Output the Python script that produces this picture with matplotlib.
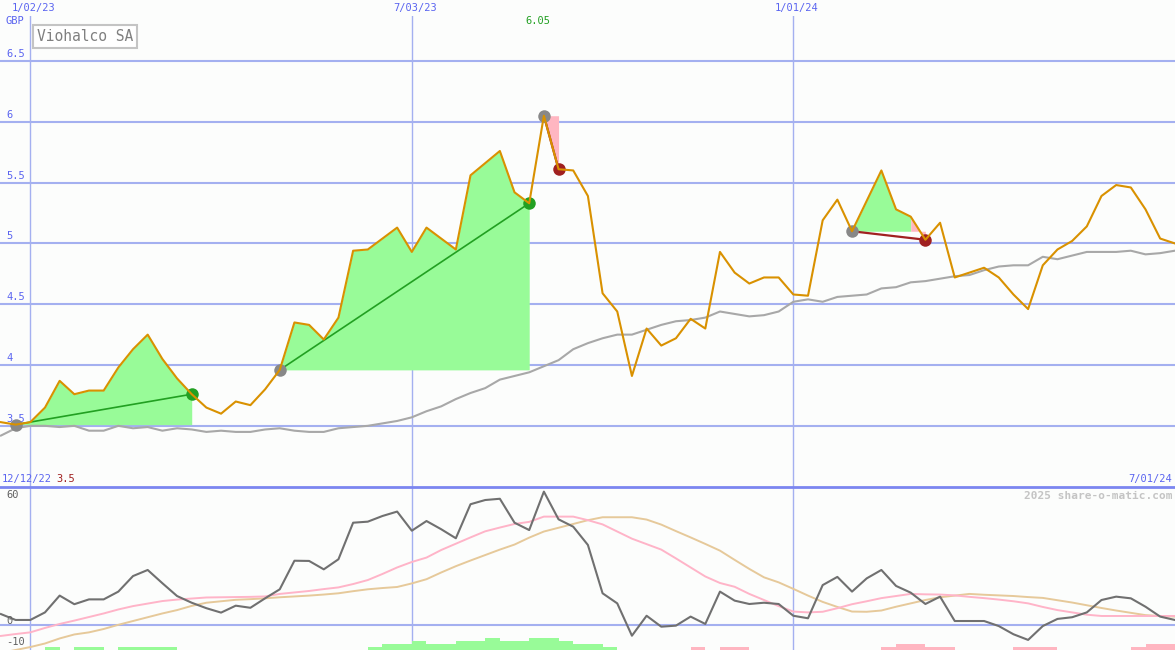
import numpy as np
import matplotlib.pyplot as plt

# weekly data, week 0 = 2 Jan 2023 (chart runs 19 Dec 2022 .. 1 Jul 2024)
weeks = np.arange(-2, 79)

price = [3.53, 3.51, 3.53, 3.65, 3.87, 3.76, 3.79, 3.79, 3.98, 4.13,
         4.25, 4.05, 3.89, 3.76, 3.65, 3.60, 3.70, 3.67, 3.80, 3.96,
         4.35, 4.33, 4.21, 4.39, 4.94, 4.95, 5.04, 5.13, 4.93, 5.13,
         5.04, 4.95, 5.56, 5.66, 5.76, 5.42, 5.33, 6.05, 5.61, 5.60,
         5.39, 4.59, 4.44, 3.91, 4.30, 4.16, 4.22, 4.38, 4.30, 4.93,
         4.76, 4.67, 4.72, 4.72, 4.58, 4.57, 5.19, 5.36, 5.10, 5.35,
         5.60, 5.28, 5.22, 5.03, 5.17, 4.72, 4.76, 4.80, 4.72, 4.58,
         4.46, 4.82, 4.95, 5.02, 5.14, 5.39, 5.48, 5.46, 5.28, 5.04,
         5.00]

avg = [3.42, 3.48, 3.50, 3.50, 3.49, 3.50, 3.46, 3.46, 3.50, 3.48,
       3.49, 3.46, 3.48, 3.47, 3.45, 3.46, 3.45, 3.45, 3.47, 3.48,
       3.46, 3.45, 3.45, 3.48, 3.49, 3.50, 3.52, 3.54, 3.57, 3.62,
       3.66, 3.72, 3.77, 3.81, 3.88, 3.91, 3.94, 3.99, 4.04, 4.13,
       4.18, 4.22, 4.25, 4.25, 4.29, 4.33, 4.36, 4.37, 4.39, 4.44,
       4.42, 4.40, 4.41, 4.44, 4.52, 4.54, 4.52, 4.56, 4.57, 4.58,
       4.63, 4.64, 4.68, 4.69, 4.71, 4.73, 4.74, 4.78, 4.81, 4.82,
       4.82, 4.89, 4.87, 4.90, 4.93, 4.93, 4.93, 4.94, 4.91, 4.92,
       4.94]

osc = [5.2, 2.4, 2.4, 6.0, 14.0, 9.9, 12.2, 12.2, 15.9, 23.3,
       26.2, 19.9, 13.8, 10.6, 8.0, 5.9, 9.2, 8.2, 12.7, 17.0,
       30.6, 30.5, 26.5, 31.3, 48.7, 49.2, 51.9, 54.0, 44.9, 49.5,
       45.6, 41.3, 57.5, 59.5, 60.1, 48.7, 45.2, 63.5, 50.3, 46.8,
       38.1, 15.1, 10.3, -5.1, 4.4, -0.8, -0.3, 4.0, 0.5, 15.9,
       11.6, 10.0, 10.6, 10.0, 4.4, 3.2, 19.0, 22.9, 15.9, 22.2,
       26.2, 18.6, 15.4, 10.0, 13.5, 1.9, 1.9, 1.9, -0.5, -4.4,
       -7.1, -0.5, 2.9, 3.7, 6.0, 11.9, 13.5, 12.7, 8.7, 4.0,
       2.4]

osc_fast = [-5.2, -4.3, -3.5, -1.4, 0.5, 2.1, 3.8, 5.5, 7.4, 9.0,
            10.2, 11.4, 12.1, 12.6, 13.1, 13.2, 13.3, 13.4, 13.6, 14.8,
            15.5, 16.2, 17.1, 17.9, 19.5, 21.4, 24.3, 27.4, 30.0, 32.1,
            35.7, 38.7, 41.7, 44.6, 46.4, 48.1, 49.1, 51.6, 51.6, 51.6,
            49.9, 47.9, 44.5, 41.1, 38.5, 35.9, 31.7, 27.4, 23.1, 20.0,
            18.2, 14.8, 11.9, 9.0, 6.4, 6.0, 6.3, 8.0, 9.9, 11.3,
            12.8, 13.8, 14.8, 14.6, 14.5, 14.1, 13.4, 12.8, 12.1, 11.3,
            10.3, 8.6, 7.1, 6.0, 4.9, 4.3, 4.3, 4.3, 4.3, 4.3,
            4.3]

osc_slow = [-13.3, -11.9, -10.5, -8.8, -6.4, -4.5, -3.5, -1.9, 0.1, 1.9,
            3.7, 5.5, 7.1, 9.1, 10.6, 11.3, 12.0, 12.3, 12.7, 13.2,
            13.6, 14.0, 14.5, 15.1, 16.1, 17.0, 17.6, 18.1, 19.8, 21.8,
            25.0, 28.0, 30.7, 33.3, 35.9, 38.3, 41.6, 44.5, 46.3, 48.1,
            49.9, 51.3, 51.3, 51.3, 50.2, 47.8, 44.7, 41.7, 38.6, 35.4,
            31.0, 26.7, 22.7, 20.3, 17.2, 14.0, 11.0, 8.6, 6.4, 6.3,
            6.9, 8.7, 10.3, 11.9, 13.2, 14.0, 14.8, 14.4, 14.1, 13.8,
            13.3, 12.9, 11.8, 10.7, 9.4, 8.1, 6.9, 5.8, 4.7, 4.3,
            4.0]

# histogram steps (+ green, - pink)
hist = [0, 0, 0, 1, 0, 1, 1, 0, 1, 1,
        1, 1, 0, 0, 0, 0, 0, 0, 0, 0,
        0, 0, 0, 0, 0, 1, 2, 2, 3, 2,
        2, 3, 3, 4, 3, 3, 4, 4, 3, 2,
        2, 1, 0, 0, 0, 0, 0, -1, 0, -1,
        -1, 0, 0, 0, 0, 0, 0, 0, 0, 0,
        -1, -2, -2, -1, -1, 0, 0, 0, 0, -1,
        -1, -1, 0, 0, 0, 0, 0, -1, -2, -2,
        0]

date_ticks = [0, 26, 52]
date_labels = ["1/02/23", "7/03/23", "1/01/24"]
price_ticks = [3.5, 4, 4.5, 5, 5.5, 6, 6.5]
price_labels = ["3.5", "4", "4.5", "5", "5.5", "6", "6.5"]
osc_ticks = [60, 0, -10]

trend_start = [-1, 17, 35, 56]
trend_end = [11, 34, 36, 61]

bg = "#fcfdfc"
grid = "#a4b0f0"
blue = "#5a64f0"
green_fill = "#98fb98"
pink_fill = "#ffb6c1"
up_col = "#22a022"
down_col = "#a02020"
mono = "DejaVu Sans Mono"

W, H = 1175, 650
fig = plt.figure(figsize=(W / 100, H / 100), dpi=100)
fig.patch.set_facecolor(bg)

ax = fig.add_axes([0, 163 / H, 1, 471 / H])
axb = fig.add_axes([0, 0, 1, 163 / H])
for a in (ax, axb):
    a.set_facecolor(bg)
    a.set_xlim(-2.065, 78.01)
    a.set_xticks([])
    a.set_yticks([])
    for s in a.spines.values():
        s.set_visible(False)
    for t in date_ticks:
        a.axvline(t, color=grid, lw=1.0, zorder=0)

ax.set_ylim(2.997, 6.870)
axb.set_ylim(-11.9, 65.7)

# price panel
for v, lab in zip(price_ticks, price_labels):
    ax.axhline(v, color=grid, lw=1.5, zorder=0)
    ax.annotate(lab, xy=(0, v), xycoords=("axes fraction", "data"),
                xytext=(6, 2), textcoords="offset pixels", va="bottom",
                ha="left", color=blue, fontsize=7.5, family=mono)

pr = np.array(price)
for s, e in zip(trend_start, trend_end):
    base = pr[s + 2]
    # colour each week by where it ends vs the start price, merge runs
    cols = [green_fill if pr[i + 3] >= base else pink_fill for i in range(s, e)]
    a0 = 0
    for k in range(1, len(cols) + 1):
        if k == len(cols) or cols[k] != cols[a0]:
            i0, i1 = s + a0, s + k
            ax.fill_between(weeks[i0 + 2:i1 + 3], pr[i0 + 2:i1 + 3], base,
                            color=cols[a0], lw=0, zorder=1)
            a0 = k

ax.plot(weeks, avg, color="#a8a8a8", lw=1.5, zorder=2)

for s, e in zip(trend_start, trend_end):
    up = pr[e + 2] >= pr[s + 2]
    col = up_col if up else down_col
    ax.plot([s, e], [pr[s + 2], pr[e + 2]], color=col,
            lw=1.2 if up else 1.6, zorder=3)
    ax.plot(s, pr[s + 2], "o", color="#888888", ms=9, mew=0, zorder=4)
    ax.plot(e, pr[e + 2], "o", color=col, ms=9, mew=0, zorder=4)

ax.plot(weeks, price, color="#d99100", lw=1.5, zorder=5)

# oscillator panel
axb.axhline(0, color=grid, lw=1.5, zorder=0)
axb.spines["top"].set_visible(True)
axb.spines["top"].set_color("#7b86f0")
axb.spines["top"].set_linewidth(2)
axb.plot(weeks, osc_slow, color="#e6c99a", lw=1.4, zorder=2)
axb.plot(weeks, osc_fast, color="#ffb4c8", lw=1.4, zorder=2)
axb.plot(weeks, osc, color="#707070", lw=1.5, zorder=3)
for v in osc_ticks:
    axb.text(-1.65, v + 2, str(v), va="center", ha="left",
             color="#606060", fontsize=7.5, family=mono)

axh = axb.twinx()
axh.set_ylim(0, 163 / 3)
axh.set_axis_off()
hv = np.array(hist)
axh.bar(weeks, np.abs(hv), width=1, align="edge", lw=0,
        color=[green_fill if h > 0 else pink_fill for h in hv])

# texts
for t, lab in zip(date_ticks, date_labels):
    ax.annotate(lab, xy=(t, 1), xycoords=("data", "axes fraction"),
                xytext=(3, 8), textcoords="offset pixels", ha="center",
                va="center", color=blue, fontsize=7.5, family=mono)

fig.text(6 / W, 1 - 21 / H, "GBP", color=blue, fontsize=7.5, family=mono,
         va="center", ha="left")
fig.text(37 / W, 1 - 36.5 / H, "Viohalco SA", color="#808080", fontsize=10.5,
         family=mono, va="center", ha="left",
         bbox=dict(boxstyle="square,pad=0.25", fc="white", ec="#c4c4c4", lw=1.5))
fig.text(538 / W, 1 - 21 / H, f"{max(price):.2f}", color=up_col, fontsize=7.5,
         family=mono, va="center", ha="center")
fig.text(2 / W, 1 - 479 / H, "12/12/22", color=blue, fontsize=7.5, family=mono,
         va="center", ha="left")
fig.text(56 / W, 1 - 479 / H, f"{min(price):.1f}", color=down_col,
         fontsize=7.5, family=mono, va="center", ha="left")
fig.text(1172 / W, 1 - 479 / H, "7/01/24", color=blue, fontsize=7.5,
         family=mono, va="center", ha="right")
fig.text(1172 / W, 1 - 496 / H, "2025 share-o-matic.com", color="#c4c4c4",
         fontsize=8, family=mono, weight="bold", va="center", ha="right")

fig.savefig("out.png", dpi=100, facecolor=bg)
